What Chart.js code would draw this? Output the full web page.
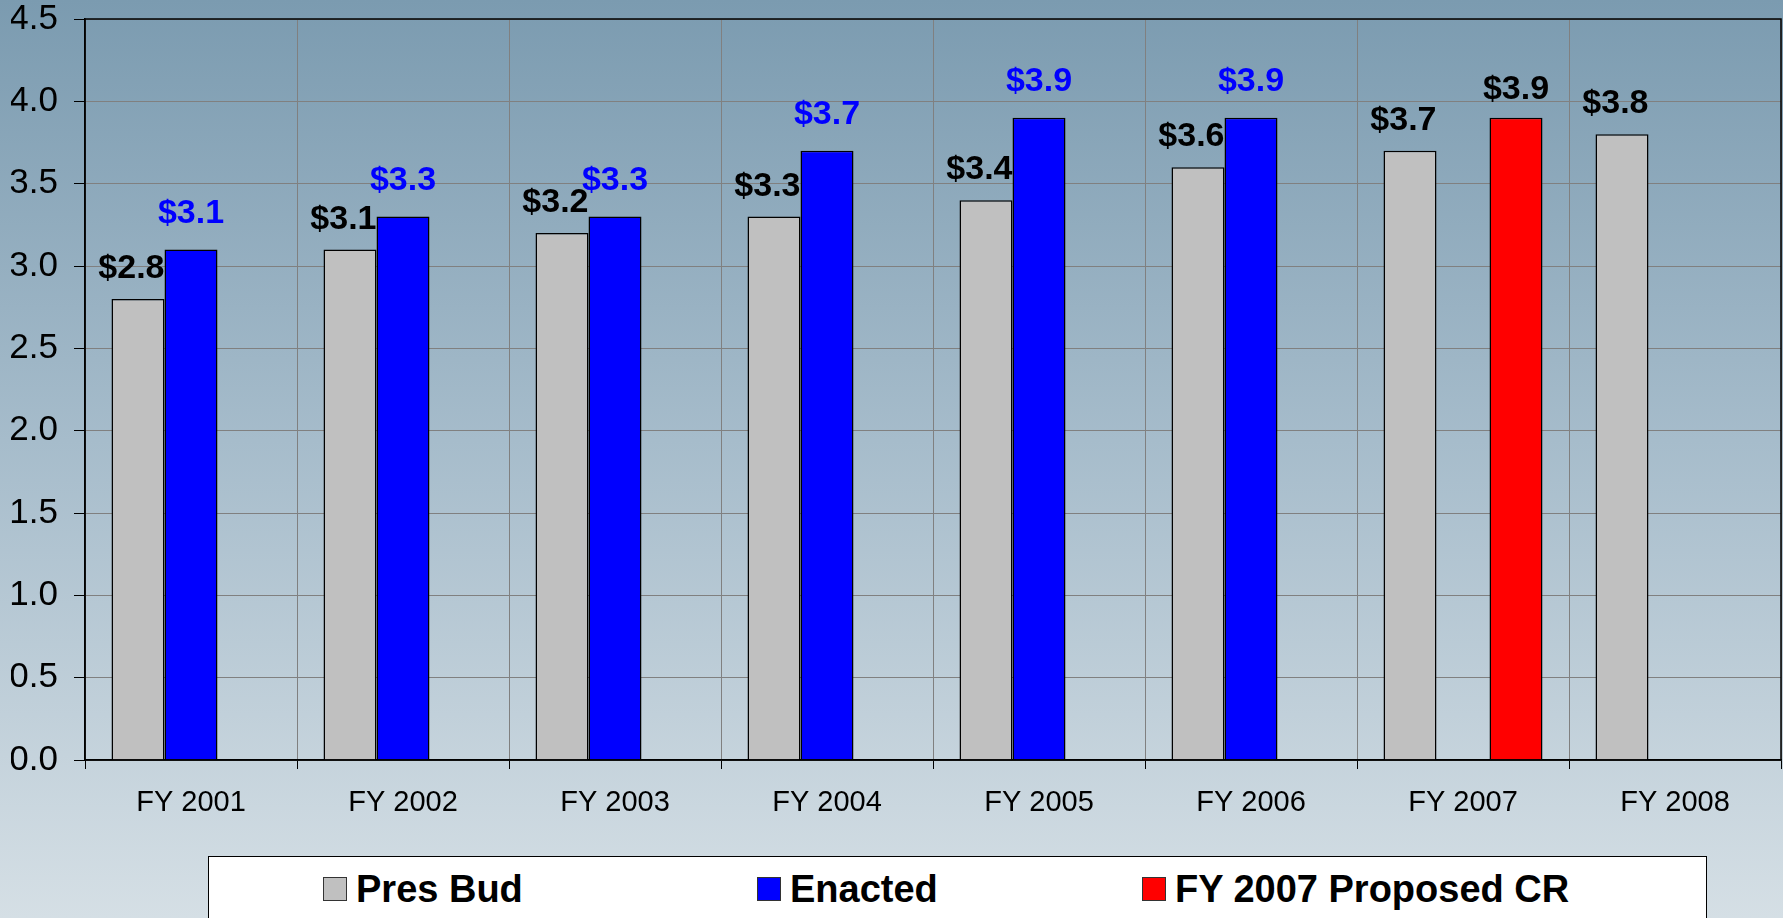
<!DOCTYPE html>
<html>
<head>
<meta charset="utf-8">
<script src="https://cdn.jsdelivr.net/npm/chart.js@4/dist/chart.umd.min.js"></script>
<style>
  html, body { margin: 0; padding: 0; }
  body {
    width: 1783px; height: 918px; overflow: hidden; position: relative;
    background: linear-gradient(to bottom, #7b9bb0 0%, #a6bccb 48%, #d5dfe5 100%);
    font-family: "Liberation Sans", Arial, sans-serif;
  }
  #wrap { position: absolute; left: 0; top: 0; width: 1783px; height: 918px; }
  #legend {
    position: absolute; left: 208px; top: 856px; width: 1499px; height: 80px;
    background: #fff; border: 1.5px solid #000; box-sizing: border-box;
  }
  .item { position: absolute; top: 17px; display: flex; align-items: center; }
  .item span.box { width: 24px; height: 24px; border: 1px solid #333; box-sizing: border-box; margin-right: 9px; }
  .item span.txt { font-weight: bold; font-size: 38px; color: #000; line-height: 30px; }
</style>
</head>
<body>
<div id="wrap"><canvas id="budgetChart" width="1783" height="918"></canvas></div>
<div id="legend"></div>
<script>
// categories and values (billions)
const fiscalYears = ['FY 2001', 'FY 2002', 'FY 2003', 'FY 2004', 'FY 2005', 'FY 2006', 'FY 2007', 'FY 2008'];
const presBud = [2.8, 3.1, 3.2, 3.3, 3.4, 3.6, 3.7, 3.8];
const enacted = [3.1, 3.3, 3.3, 3.7, 3.9, 3.9, null, null];
const proposedCR = [null, null, null, null, null, null, 3.9, null];
const yTicks = [0, 0.5, 1.0, 1.5, 2.0, 2.5, 3.0, 3.5, 4.0, 4.5];

const FONT = '"Liberation Sans", Arial, sans-serif';

// draws the "$x.x" labels over the bars
const valueLabels = {
    id: 'valueLabels',
    afterDatasetsDraw(chart) {
        const ctx = chart.ctx;
        ctx.save();
        ctx.font = 'bold 34px ' + FONT;
        ctx.textBaseline = 'alphabetic';
        chart.data.datasets.forEach((ds, i) => {
            const meta = chart.getDatasetMeta(i);
            meta.data.forEach((bar, j) => {
                const v = ds.data[j];
                if (v === null || v === undefined) return;
                const txt = '$' + v.toFixed(1);
                if (i === 0) {
                    ctx.fillStyle = '#000';
                    ctx.textAlign = 'right';
                    ctx.fillText(txt, bar.x + bar.width / 2, bar.y - 21);
                } else if (i === 1) {
                    ctx.fillStyle = '#0000ff';
                    ctx.textAlign = 'center';
                    ctx.fillText(txt, bar.x, bar.y - 27);
                } else {
                    ctx.fillStyle = '#000';
                    ctx.textAlign = 'center';
                    ctx.fillText(txt, bar.x, bar.y - 19);
                }
            });
        });
        ctx.restore();
    }
};

// black frame round the plot
const plotFrame = {
    id: 'plotFrame',
    afterDraw(chart) {
        const a = chart.chartArea;
        const ctx = chart.ctx;
        ctx.save();
        ctx.strokeStyle = '#000';
        ctx.lineWidth = 1.5;
        ctx.strokeRect(a.left, a.top, a.right - a.left, a.bottom - a.top);
        ctx.restore();
    }
};

const ctx = document.getElementById('budgetChart').getContext('2d');
const budgetChart = new Chart(ctx, {
    type: 'bar',
    data: {
        labels: fiscalYears,
        datasets: [
            { label: 'Pres Bud', data: presBud, backgroundColor: '#c0c0c0', borderColor: '#000', borderWidth: 1.5 },
            { label: 'Enacted', data: enacted, backgroundColor: '#0000ff', borderColor: '#000', borderWidth: 1.5 },
            { label: 'FY 2007 Proposed CR', data: proposedCR, backgroundColor: '#ff0000', borderColor: '#000', borderWidth: 1.5 }
        ]
    },
    options: {
        responsive: false,
        animation: false,
        layout: { padding: { left: 11, right: 2, top: 0, bottom: 98 } },
        datasets: { bar: { categoryPercentage: 0.75, barPercentage: 1.0, skipNull: false } },
        scales: {
            x: {
                offset: true,
                afterFit: (axis) => { axis.height = 60; },
                grid: { color: '#808080', lineWidth: 1, tickColor: '#000', tickLength: 9, offset: true },
                border: { color: '#000', width: 1.5 },
                ticks: { color: '#000', font: { family: FONT, size: 29 }, padding: 17, maxRotation: 0 }
            },
            y: {
                min: 0,
                max: 4.5,
                afterBuildTicks: (axis) => { axis.ticks = yTicks.map(v => ({ value: v })); },
                afterFit: (axis) => { axis.width = 74; axis.paddingTop = 19; axis.paddingBottom = 0; },
                grid: { color: '#808080', lineWidth: 1, tickColor: '#000', tickLength: 11 },
                border: { color: '#000', width: 1.5 },
                ticks: {
                    color: '#000', font: { family: FONT, size: 35 }, padding: 16,
                    callback: (v) => Number(v).toFixed(1)
                }
            }
        },
        plugins: {
            legend: { display: false },
            tooltip: { enabled: false }
        }
    },
    plugins: [valueLabels, plotFrame]
});

// legend below the plot, built from the chart's datasets
const legendOffsets = [114, 548, 933];
const legendEl = document.getElementById('legend');
budgetChart.data.datasets.forEach((ds, i) => {
    const item = document.createElement('div');
    item.className = 'item';
    item.style.left = legendOffsets[i] + 'px';
    const box = document.createElement('span');
    box.className = 'box';
    box.style.background = ds.backgroundColor;
    const txt = document.createElement('span');
    txt.className = 'txt';
    txt.textContent = ds.label;
    item.appendChild(box);
    item.appendChild(txt);
    legendEl.appendChild(item);
});
</script>
</body>
</html>
